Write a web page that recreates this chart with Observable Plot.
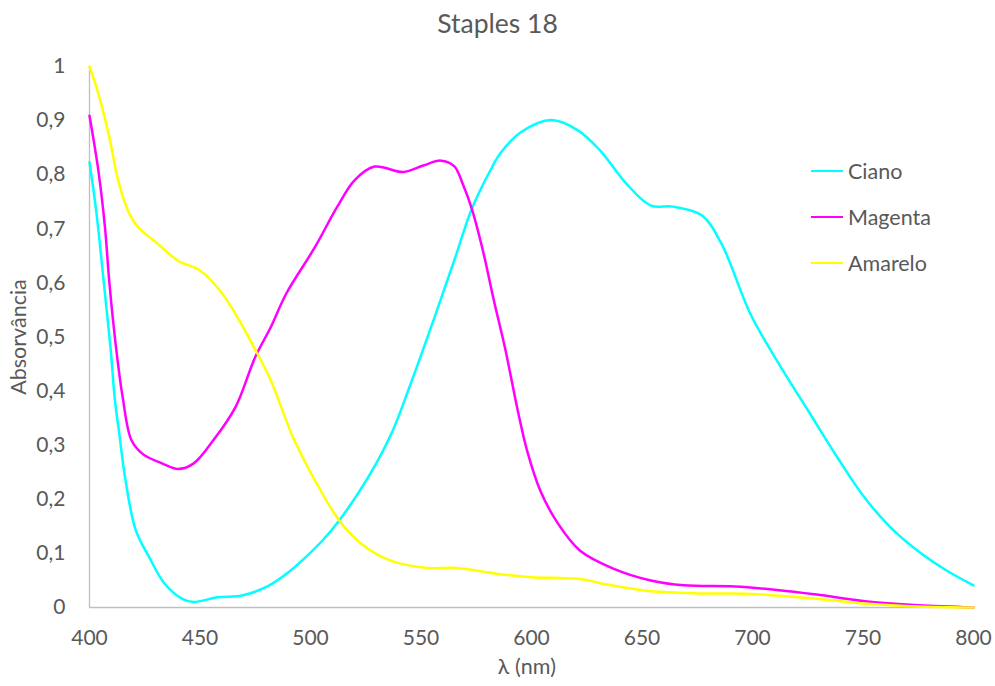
<!DOCTYPE html>
<html>
<head>
<meta charset="utf-8">
<script src="https://cdn.jsdelivr.net/npm/d3@7"></script>
<script src="https://cdn.jsdelivr.net/npm/@observablehq/plot@0.6"></script>
<style>
  body { margin: 0; background: #fff; }
  #wrap { position: relative; width: 995px; height: 686px; font-family: Lato, "Open Sans", sans-serif; color: #595959; }
  #wrap svg { position: absolute; left: 0; top: 0; }
  .title { position: absolute; left: 0; width: 995px; top: 7px; text-align: center; font-size: 26.5px; }
  .xlab { position: absolute; left: 427px; width: 200px; top: 653px; text-align: center; font-size: 21.5px; }
  .ylab { position: absolute; left: 18px; top: 337px; font-size: 21.5px; transform: translate(-50%, -50%) rotate(-90deg); white-space: nowrap; }
  .leg { position: absolute; left: 811px; font-size: 21.5px; display: flex; align-items: center; }
  .leg span.sw { display: inline-block; width: 32px; height: 2.5px; margin-right: 5px; }
</style>
</head>
<body>
<div id="wrap"></div>
<script>
const titleText = "Staples 18";
const xLabel = "λ (nm)";
const yLabel = "Absorvância";
const seriesNames = ["Ciano", "Magenta", "Amarelo"];
const seriesColors = ["#00FFFF", "#FF00FF", "#FFFF00"];

const xTicks = [400, 450, 500, 550, 600, 650, 700, 750, 800];
const yTicks = [0, 0.1, 0.2, 0.3, 0.4, 0.5, 0.6, 0.7, 0.8, 0.9, 1];
const yTickLabels = ["0", "0,1", "0,2", "0,3", "0,4", "0,5", "0,6", "0,7", "0,8", "0,9", "1"];

const cyanNm  = [400, 403, 406.5, 409.5, 411.5, 413.3, 416.3, 421, 427, 434, 442, 447, 458, 469, 480, 489, 497, 505, 513, 526, 537, 545, 556, 565, 573, 581, 586, 595, 609, 621, 631, 643, 654, 664, 677, 686, 699, 712, 725, 738, 750, 762, 775, 788, 800];
const cyanAbs = [0.823, 0.734, 0.6, 0.481, 0.383, 0.327, 0.235, 0.142, 0.093, 0.044, 0.016, 0.01, 0.019, 0.022, 0.038, 0.062, 0.09, 0.122, 0.161, 0.24, 0.325, 0.41, 0.535, 0.641, 0.737, 0.805, 0.84, 0.878, 0.901, 0.882, 0.845, 0.783, 0.743, 0.741, 0.725, 0.672, 0.543, 0.45, 0.365, 0.28, 0.207, 0.15, 0.104, 0.068, 0.041];

const magNm  = [400, 404, 407, 409, 412, 415, 419, 424, 433, 440, 447, 456, 466, 475, 482, 489, 502, 512, 520, 529, 542, 551, 559, 565, 569, 573, 578, 583, 588, 594, 598, 604, 612, 622, 637, 654, 669, 692, 710, 729, 750, 775, 800];
const magAbs = [0.909, 0.808, 0.703, 0.6, 0.481, 0.389, 0.309, 0.284, 0.266, 0.256, 0.266, 0.309, 0.37, 0.463, 0.518, 0.58, 0.666, 0.74, 0.79, 0.815, 0.805, 0.817, 0.826, 0.816, 0.782, 0.737, 0.66, 0.567, 0.48, 0.36, 0.29, 0.216, 0.155, 0.105, 0.072, 0.05, 0.041, 0.039, 0.033, 0.024, 0.012, 0.004, 0];

const yelNm  = [400, 404, 409, 413, 418, 422, 431, 440, 450, 459, 466, 476, 482, 489, 492, 502, 513, 523, 536, 553, 566, 585, 600, 621, 636, 654, 677, 699, 729, 752, 775, 800];
const yelAbs = [1, 0.95, 0.869, 0.789, 0.728, 0.703, 0.672, 0.641, 0.623, 0.586, 0.543, 0.469, 0.42, 0.346, 0.315, 0.235, 0.161, 0.118, 0.087, 0.073, 0.073, 0.062, 0.056, 0.053, 0.041, 0.03, 0.026, 0.025, 0.016, 0.007, 0.002, 0];

const toRows = (xs, ys) => xs.map((x, i) => ({x, y: ys[i]}));
const series = [toRows(cyanNm, cyanAbs), toRows(magNm, magAbs), toRows(yelNm, yelAbs)];

const chart = Plot.plot({
  width: 995,
  height: 686,
  marginLeft: 89,
  marginRight: 22,
  marginTop: 66,
  marginBottom: 79,
  x: {domain: [400, 800]},
  y: {domain: [0, 1]},
  style: {fontFamily: "Lato, 'Open Sans', sans-serif", fontSize: "21px", color: "#595959", background: "transparent", overflow: "visible"},
  marks: [
    Plot.ruleX([400], {y1: 0, y2: 1, stroke: "#bfbfbf", strokeWidth: 1.3}),
    Plot.ruleY([0], {stroke: "#bfbfbf", strokeWidth: 1.3}),
    Plot.axisX(xTicks, {tickSize: 0, tickPadding: 23, label: null, fontSize: 21}),
    Plot.axisY(yTicks, {tickSize: 0, tickPadding: 24, label: null, fontSize: 21, tickFormat: d => yTickLabels[yTicks.indexOf(d)]}),
    ...series.map((rows, i) => Plot.line(rows, {x: "x", y: "y", stroke: seriesColors[i], strokeWidth: 2.5, curve: "catmull-rom"}))
  ]
});

const wrap = document.getElementById("wrap");
wrap.appendChild(chart);

const t = document.createElement("div"); t.className = "title"; t.textContent = titleText; wrap.appendChild(t);
const xl = document.createElement("div"); xl.className = "xlab"; xl.textContent = xLabel; wrap.appendChild(xl);
const yl = document.createElement("div"); yl.className = "ylab"; yl.textContent = yLabel; wrap.appendChild(yl);
const legTops = [158, 204, 250];
seriesNames.forEach((name, i) => {
  const d = document.createElement("div");
  d.className = "leg";
  d.style.top = legTops[i] + "px";
  const sw = document.createElement("span"); sw.className = "sw"; sw.style.background = seriesColors[i];
  const tx = document.createElement("span"); tx.textContent = name;
  d.appendChild(sw); d.appendChild(tx);
  wrap.appendChild(d);
});
</script>
</body>
</html>
